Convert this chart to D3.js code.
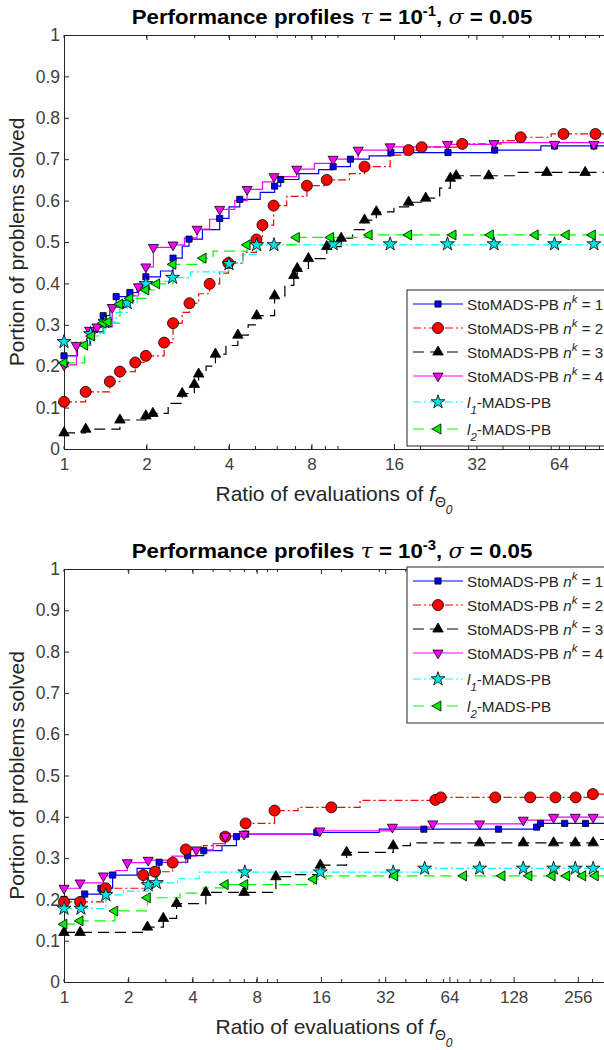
<!DOCTYPE html>
<html><head><meta charset="utf-8">
<script src="https://cdn.jsdelivr.net/npm/d3@7"></script>
<style>
body{margin:0;background:#fff}
svg{display:block}
text{font-family:"Liberation Sans",Arial,Helvetica,sans-serif}
</style>
</head><body>
<svg id="chart" width="604" height="1050"></svg>
<script>
// ---------- data ----------
const yTickValues = [0,0.1,0.2,0.3,0.4,0.5,0.6,0.7,0.8,0.9,1];
const xTicksTop = [1,2,4,8,16,32,64];
const xTicksBottom = [1,2,4,8,16,32,64,128,256];
const legendNames = ["n1","n2","n3","n4","l1","l2"];
const titleExponents = ["-1","-3"];

// top panel (tau = 1e-1): step breakpoints [ratio, fraction] and marker points
const topNk1 = [[1,0.225],[1.12,0.25],[1.25,0.283],[1.39,0.322],[1.47,0.345],[1.55,0.368],[1.74,0.378],[1.85,0.395],[1.99,0.416],[2.25,0.43],[2.5,0.461],[2.7,0.49],[2.86,0.507],[3.2,0.53],[3.7,0.557],[4.0,0.585],[4.38,0.603],[5.2,0.62],[5.87,0.635],[6.18,0.651],[7.2,0.665],[8.5,0.675],[9.6,0.682],[11.1,0.7],[13,0.708],[15.6,0.716],[37.3,0.722],[55,0.732],[95,0.737]];
const topNk1Marks = [[1,0.225],[1.25,0.283],[1.39,0.322],[1.55,0.368],[1.74,0.378],[1.99,0.416],[2.5,0.461],[2.86,0.507],[3.7,0.557],[4.38,0.603],[5.87,0.635],[6.18,0.651],[9.6,0.682],[11.1,0.7],[15.6,0.716],[25.2,0.716],[37.3,0.722],[61.7,0.732],[85.9,0.732]];
const topNk2 = [[1,0.114],[1.2,0.138],[1.47,0.163],[1.6,0.187],[1.82,0.209],[1.99,0.225],[2.32,0.257],[2.5,0.304],[2.7,0.33],[2.87,0.352],[3.1,0.375],[3.4,0.399],[3.7,0.425],[3.98,0.449],[4.5,0.475],[5.04,0.506],[5.3,0.541],[5.82,0.588],[6.5,0.61],[7.7,0.636],[9.1,0.65],[11,0.665],[12.5,0.682],[15.5,0.71],[18.1,0.722],[20.2,0.729],[28.4,0.737],[40,0.745],[46.4,0.753],[60,0.761],[95,0.761]];
const topNk2Marks = [[1,0.114],[1.2,0.138],[1.47,0.163],[1.6,0.187],[1.82,0.209],[1.99,0.225],[2.32,0.257],[2.5,0.304],[2.87,0.352],[3.4,0.399],[3.98,0.449],[5.04,0.506],[5.3,0.541],[5.82,0.588],[7.7,0.636],[9.1,0.65],[12.5,0.682],[18.1,0.722],[20.2,0.729],[28.4,0.737],[46.4,0.753],[66.5,0.761],[87,0.761]];
const topNk3 = [[1,0.039],[1.2,0.048],[1.6,0.07],[1.99,0.08],[2.11,0.086],[2.4,0.11],[2.7,0.134],[2.99,0.156],[3.1,0.181],[3.3,0.2],[3.57,0.229],[3.9,0.25],[4.31,0.275],[4.7,0.3],[5.05,0.322],[5.87,0.37],[6.4,0.395],[6.9,0.419],[7.1,0.436],[7.8,0.46],[9.1,0.489],[10.27,0.509],[11.3,0.53],[12.5,0.553],[13.8,0.573],[16,0.585],[18.1,0.596],[20.9,0.606],[23.5,0.63],[25.7,0.654],[27,0.66],[45,0.668],[95,0.668]];
const topNk3Marks = [[1,0.039],[1.2,0.048],[1.6,0.07],[1.99,0.08],[2.11,0.086],[2.7,0.134],[2.99,0.156],[3.1,0.181],[3.57,0.229],[4.31,0.275],[5.05,0.322],[5.87,0.37],[6.9,0.419],[7.1,0.436],[7.8,0.46],[9.1,0.489],[10.27,0.509],[12.5,0.553],[13.8,0.573],[18.1,0.596],[20.9,0.606],[25.7,0.654],[27,0.66],[35.5,0.66],[57.8,0.668],[79.8,0.668]];
const topNk4 = [[1,0.203],[1.11,0.25],[1.24,0.287],[1.32,0.295],[1.5,0.342],[1.7,0.37],[1.87,0.392],[1.99,0.44],[2.12,0.487],[2.5,0.493],[2.75,0.51],[3.06,0.531],[3.4,0.555],[3.7,0.579],[4.2,0.6],[4.66,0.627],[5.3,0.645],[5.84,0.658],[7.07,0.676],[8.2,0.69],[9.6,0.7],[11.85,0.722],[15.5,0.73],[25.1,0.736],[37.1,0.74],[95,0.742]];
const topNk4Marks = [[1,0.203],[1.11,0.25],[1.24,0.287],[1.32,0.295],[1.5,0.342],[1.87,0.392],[1.99,0.44],[2.12,0.487],[2.5,0.493],[3.06,0.531],[3.7,0.579],[4.66,0.627],[5.84,0.658],[7.07,0.676],[9.6,0.7],[11.85,0.722],[15.5,0.73],[25.1,0.736],[37.1,0.738],[61.7,0.736],[85.9,0.736]];
const topL1 = [[1,0.259],[1.25,0.278],[1.41,0.307],[1.55,0.33],[1.7,0.353],[1.85,0.375],[1.99,0.399],[2.2,0.405],[2.49,0.414],[2.9,0.428],[4.0,0.449],[4.5,0.47],[5.05,0.493],[95,0.495]];
const topL1Marks = [[1,0.259],[1.25,0.278],[1.41,0.307],[1.7,0.353],[1.99,0.399],[2.49,0.414],[4.0,0.447],[5.05,0.493],[5.84,0.493],[9.6,0.495],[15.5,0.495],[25.1,0.495],[37.1,0.495],[61.7,0.495],[85.9,0.495]];
const topL2 = [[1,0.208],[1.19,0.251],[1.26,0.273],[1.39,0.304],[1.6,0.35],[1.74,0.364],[1.99,0.384],[2.18,0.399],[2.5,0.446],[3.22,0.461],[3.5,0.478],[4.66,0.493],[7.05,0.511],[13,0.517],[95,0.517]];
const topL2Marks = [[1,0.208],[1.19,0.251],[1.26,0.273],[1.39,0.304],[1.45,0.307],[1.6,0.35],[1.74,0.364],[1.99,0.384],[2.18,0.399],[2.5,0.446],[3.22,0.461],[4.66,0.493],[7.05,0.511],[9.4,0.511],[13,0.517],[18.1,0.517],[26.3,0.517],[36,0.517],[52.5,0.517],[68.1,0.517],[84.8,0.517]];

// bottom panel (tau = 1e-3)
const botNk1 = [[1,0.2],[1.25,0.213],[1.49,0.227],[1.69,0.259],[2.2,0.275],[2.79,0.29],[3.8,0.306],[4.52,0.318],[5.5,0.33],[6.43,0.352],[7.1,0.358],[15.3,0.362],[30,0.37],[164,0.375],[171,0.384],[400,0.386]];
const botNk1Marks = [[1,0.2],[1.25,0.213],[1.49,0.227],[1.69,0.259],[2.79,0.29],[3.8,0.306],[4.52,0.318],[6.43,0.352],[7.1,0.358],[15.3,0.362],[48.6,0.37],[108.7,0.37],[164,0.375],[171,0.384],[222,0.384],[278,0.384]];
const botNk2 = [[1,0.194],[1.57,0.227],[2.35,0.259],[2.67,0.267],[3.23,0.289],[3.72,0.321],[4.5,0.33],[5.7,0.352],[7.1,0.384],[9.7,0.415],[12.5,0.423],[24.4,0.44],[58.3,0.447],[290,0.455],[400,0.455]];
const botNk2Marks = [[1,0.194],[1.19,0.194],[1.57,0.227],[2.35,0.259],[2.67,0.267],[3.23,0.289],[3.72,0.321],[5.7,0.352],[7.1,0.384],[9.7,0.415],[17.9,0.423],[55,0.441],[58.3,0.447],[105,0.447],[153,0.447],[201,0.447],[250,0.447],[301,0.455]];
const botNk3 = [[1,0.12],[2.46,0.133],[2.92,0.154],[3.37,0.19],[4.62,0.217],[9.84,0.255],[12,0.26],[15.9,0.283],[21.1,0.314],[34.9,0.33],[42,0.337],[300,0.345]];
const botNk3Marks = [[1,0.12],[1.19,0.12],[2.46,0.133],[2.92,0.154],[3.37,0.19],[4.62,0.217],[6.98,0.217],[9.84,0.255],[15.9,0.283],[21.1,0.314],[34.9,0.33],[88.7,0.337],[142,0.337],[197,0.337],[249,0.337],[302,0.337]];
const botNk4 = [[1,0.227],[1.19,0.24],[1.53,0.257],[1.75,0.27],[1.98,0.289],[2.48,0.295],[3.2,0.305],[4.17,0.32],[5.0,0.335],[5.7,0.353],[6.98,0.358],[15.8,0.366],[34.6,0.375],[53.5,0.383],[142,0.392],[197,0.399],[400,0.4]];
const botNk4Marks = [[1,0.227],[1.19,0.24],[1.53,0.257],[1.98,0.289],[2.48,0.295],[4.17,0.32],[5.7,0.353],[6.98,0.358],[15.8,0.366],[34.6,0.375],[53.5,0.383],[88.7,0.383],[142,0.392],[197,0.399],[249,0.399],[302,0.399]];
const botL1 = [[1,0.178],[1.57,0.211],[1.9,0.22],[2.48,0.235],[2.71,0.24],[3.4,0.25],[4.3,0.266],[49,0.275],[400,0.275]];
const botL1Marks = [[1,0.178],[1.2,0.178],[1.57,0.211],[2.48,0.235],[2.71,0.24],[7.04,0.266],[15.9,0.266],[34.9,0.266],[49,0.275],[88.7,0.275],[142,0.275],[197,0.275],[249,0.275],[302,0.275]];
const botL2 = [[1,0.14],[1.19,0.148],[1.73,0.172],[2.46,0.204],[3.5,0.215],[4.5,0.228],[5.7,0.236],[14.8,0.249],[16.9,0.257],[400,0.257]];
const botL2Marks = [[1,0.14],[1.19,0.148],[1.73,0.172],[2.46,0.204],[5.7,0.236],[7.04,0.236],[14.8,0.249],[35.5,0.257],[74.6,0.257],[113,0.257],[151,0.257],[194,0.257],[227,0.257],[270,0.257],[309,0.257]];

// ---------- styles ----------
const seriesStyle = [
  {color:"#0000ff", dash:null,      sym:d3.symbolSquare,   size:38, rot:0,   fill:"#0000ff"},
  {color:"#ff0000", dash:"8,3,2,3", sym:d3.symbolCircle,   size:95, rot:0,   fill:"#ff0000"},
  {color:"#000000", dash:"11,6",    sym:d3.symbolTriangle, size:48, rot:0,   fill:"#000000"},
  {color:"#ff00ff", dash:null,      sym:d3.symbolTriangle, size:44, rot:180, fill:"#ff00ff"},
  {color:"#00ffff", dash:"8,3,2,3", sym:d3.symbolStar,     size:60, rot:0,   fill:"#00e5e5"},
  {color:"#00ff00", dash:"11,6",    sym:d3.symbolTriangle, size:44, rot:-90, fill:"#00ee00"}
];
const axisColor = "#262626";
const tickColor = "#404040";

const panels = [
  {top:35, bottom:449, xMax:100, ticks:xTicksTop, exp:titleExponents[0], legendTop:290,
   series:[topNk1,topNk2,topNk3,topNk4,topL1,topL2],
   marks:[topNk1Marks,topNk2Marks,topNk3Marks,topNk4Marks,topL1Marks,topL2Marks]},
  {top:569, bottom:982, xMax:370, ticks:xTicksBottom, exp:titleExponents[1], legendTop:567,
   series:[botNk1,botNk2,botNk3,botNk4,botL1,botL2],
   marks:[botNk1Marks,botNk2Marks,botNk3Marks,botNk4Marks,botL1Marks,botL2Marks]}
];

const svg = d3.select("#chart");
const left = 64, right = 612;

panels.forEach((P, pi) => {
  const x = d3.scaleLog().base(2).domain([1, P.xMax]).range([left, right]);
  const y = d3.scaleLinear().domain([0,1]).range([P.bottom, P.top]);
  const g = svg.append("g");

  // minor ticks 1..9 * 10^k
  const minor = [];
  for (let e = 0; e < 4; e++) for (let d = 1; d < 10; d++) { const v = d*Math.pow(10,e); if (v <= P.xMax) minor.push(v); }

  // x axis bottom
  const xAxisB = d3.axisBottom(x).tickValues(P.ticks).tickFormat(d3.format("d")).tickSizeInner(-5).tickSizeOuter(0).tickPadding(9);
  const gxb = g.append("g").attr("transform", `translate(0,${P.bottom})`).call(xAxisB);
  gxb.select(".domain").attr("stroke", axisColor);
  gxb.selectAll(".tick line").attr("stroke", axisColor);
  gxb.selectAll(".tick text").attr("font-size", 17).attr("fill", tickColor)
     .attr("font-family", '"Liberation Sans",Arial,sans-serif');
  g.append("g").selectAll("line.mb").data(minor).join("line")
    .attr("x1", d=>x(d)).attr("x2", d=>x(d)).attr("y1", P.bottom).attr("y2", P.bottom-3)
    .attr("stroke", axisColor);

  // x axis top
  const xAxisT = d3.axisTop(x).tickValues(P.ticks).tickFormat("").tickSizeInner(-5).tickSizeOuter(0);
  const gxt = g.append("g").attr("transform", `translate(0,${P.top})`).call(xAxisT);
  gxt.select(".domain").attr("stroke", axisColor);
  gxt.selectAll(".tick line").attr("stroke", axisColor);
  g.append("g").selectAll("line.mt").data(minor).join("line")
    .attr("x1", d=>x(d)).attr("x2", d=>x(d)).attr("y1", P.top).attr("y2", P.top+3)
    .attr("stroke", axisColor);

  // y axis
  const yAxis = d3.axisLeft(y).tickValues(yTickValues).tickFormat(d => d3.format("~g")(d)).tickSizeInner(-5).tickSizeOuter(0).tickPadding(4);
  const gy = g.append("g").attr("transform", `translate(${left},0)`).call(yAxis);
  gy.select(".domain").attr("stroke", axisColor);
  gy.selectAll(".tick line").attr("stroke", axisColor);
  gy.selectAll(".tick text").attr("font-size", 17.5).attr("fill", tickColor)
     .attr("font-family", '"Liberation Sans",Arial,sans-serif');

  // lines
  const line = d3.line().x(d=>x(d[0])).y(d=>y(d[1])).curve(d3.curveStepAfter);
  P.series.forEach((s, i) => {
    const st = seriesStyle[i];
    const pts = s.concat([[P.xMax*1.05, s[s.length-1][1]]]);
    g.append("path").attr("d", line(pts)).attr("fill","none")
      .attr("stroke", st.color).attr("stroke-width", 1.2)
      .attr("stroke-dasharray", st.dash);
  });
  // markers
  P.marks.forEach((m, i) => {
    const st = seriesStyle[i];
    const sym = d3.symbol().type(st.sym).size(st.size);
    g.append("g").selectAll("path").data(m).join("path")
      .attr("d", sym)
      .attr("transform", d => `translate(${x(d[0])},${y(d[1])}) rotate(${st.rot})`)
      .attr("fill", st.fill).attr("stroke", "#000").attr("stroke-width", 0.8);
  });

  // title
  const t = g.append("text").attr("x", 332).attr("y", P.top-11).attr("text-anchor","middle")
    .attr("font-size", 21).attr("font-weight","bold").attr("fill","#000")
    .attr("transform", `translate(332,0) scale(1.06,1) translate(-332,0)`);
  t.append("tspan").text("Performance profiles ");
  t.append("tspan").text("τ").attr("font-family","'DejaVu Serif',serif").attr("font-style","italic").attr("font-weight","normal");
  t.append("tspan").text(" = 10");
  t.append("tspan").text(P.exp).attr("font-size", 14).attr("dy", -8);
  t.append("tspan").text(", ").attr("dy", 8);
  t.append("tspan").text("σ").attr("font-family","'DejaVu Serif',serif").attr("font-style","italic").attr("font-weight","normal");
  t.append("tspan").text(" = 0.05");

  // x label
  const xl = g.append("text").attr("x", 334).attr("y", P.bottom+52).attr("text-anchor","middle")
    .attr("font-size", 21).attr("fill","#262626");
  xl.append("tspan").text("Ratio of evaluations of ");
  xl.append("tspan").text("f").attr("font-style","italic");
  xl.append("tspan").text("Θ").attr("font-size", 14).attr("dy", 6);
  xl.append("tspan").text("0").attr("font-size", 12).attr("font-style","italic").attr("dy", 7);

  // y label
  g.append("text").attr("transform", `translate(24,${(P.top+P.bottom)/2}) rotate(-90)`)
    .attr("text-anchor","middle").attr("font-size", 21).attr("fill","#262626")
    .text("Portion of problems solved");

  // legend
  const lg = g.append("g").attr("transform", `translate(407,${P.legendTop})`);
  lg.append("rect").attr("x",0).attr("y",0).attr("width",230).attr("height",156)
    .attr("fill","#fff").attr("stroke",axisColor).attr("stroke-width",1);
  const offs = [14,38,62,86,112,139];
  legendNames.forEach((nm, i) => {
    const st = seriesStyle[i];
    const yy = offs[i];
    lg.append("line").attr("x1",6).attr("x2",56).attr("y1",yy).attr("y2",yy)
      .attr("stroke", st.color).attr("stroke-width",1.2).attr("stroke-dasharray", st.dash);
    lg.append("path").attr("d", d3.symbol().type(st.sym).size(st.size)())
      .attr("transform", `translate(31,${yy}) rotate(${st.rot})`)
      .attr("fill", st.fill).attr("stroke","#000").attr("stroke-width",0.8);
    const tx = lg.append("text").attr("x",60).attr("y",yy+5.5).attr("font-size",15.2).attr("fill","#262626");
    if (nm[0] === "n") {
      tx.append("tspan").text("StoMADS-PB ");
      tx.append("tspan").text("n").attr("font-style","italic");
      tx.append("tspan").text("k").attr("font-style","italic").attr("font-size",11.5).attr("dy",-6.5);
      tx.append("tspan").text(" = " + nm[1]).attr("dy",6.5);
    } else {
      tx.append("tspan").text("l").attr("font-style","italic");
      tx.append("tspan").text(nm[1]).attr("font-style","italic").attr("font-size",11.5).attr("dy",6);
      tx.append("tspan").text("-MADS-PB").attr("dy",-6);
    }
  });
});
</script>
</body></html>
